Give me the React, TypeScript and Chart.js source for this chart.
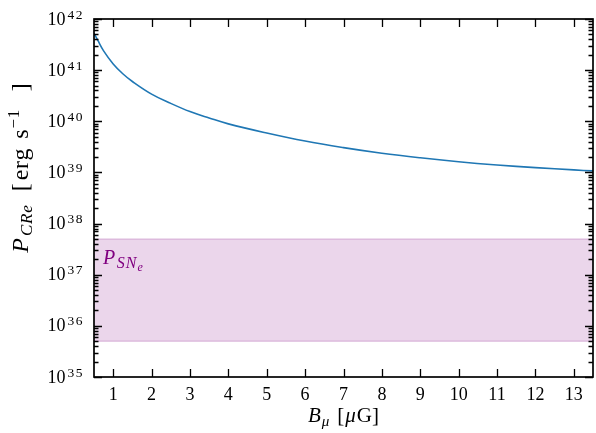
import React, { useEffect, useRef } from "react";
import { Chart, registerables } from "chart.js";

Chart.register(...registerables);

// ---- data ----
const bField = [0.5, 0.6, 0.75, 1, 1.25, 1.5, 2, 2.5, 3, 3.5, 4, 5, 6, 7, 8, 9, 10, 11, 12, 13, 13.5];
const powerCRe = [
  5.25e41, 3.8e41, 2.38e41, 1.32e41, 8.5e40, 6.0e40, 3.4e40, 2.24e40, 1.55e40, 1.16e40, 8.9e39,
  5.9e39, 4.1e39, 3.05e39, 2.37e39, 1.93e39, 1.62e39, 1.4e39, 1.24e39, 1.12e39, 1.07e39,
];
const bandX = [0.5, 13.5];
const bandLow = [5e35, 5e35];
const bandHigh = [5e37, 5e37];
const xTicks = [1, 2, 3, 4, 5, 6, 7, 8, 9, 10, 11, 12, 13];
const yTickExps = [35, 36, 37, 38, 39, 40, 41, 42];

const SERIF = '"Liberation Serif", "DejaVu Serif", serif';

type Piece = { t: string; size: number; italic?: boolean; dy?: number; gap?: number; ls?: number };

function setFont(ctx: any, p: Piece) {
  ctx.font = `${p.italic ? "italic " : ""}${p.size}px ${SERIF}`;
  if ("letterSpacing" in ctx) ctx.letterSpacing = `${p.ls || 0}px`;
}

function drawPieces(ctx: CanvasRenderingContext2D, pieces: Piece[], x: number, y: number, align: "left" | "center" | "right", color = "#000") {
  ctx.save();
  ctx.fillStyle = color;
  ctx.textBaseline = "alphabetic";
  ctx.textAlign = "left";
  const widths = pieces.map((p) => {
    setFont(ctx, p);
    return ctx.measureText(p.t).width + (p.gap || 0);
  });
  const total = widths.reduce((a, b) => a + b, 0);
  let cx = align === "left" ? x : align === "center" ? x - total / 2 : x - total;
  pieces.forEach((p, i) => {
    setFont(ctx, p);
    ctx.fillText(p.t, cx, y + (p.dy || 0));
    cx += widths[i];
  });
  setFont(ctx, { t: "", size: 10 });
  ctx.restore();
}

const axesPlugin = {
  id: "latexAxes",
  afterDraw(chart: any) {
    const ctx: CanvasRenderingContext2D = chart.ctx;
    const { left, right, top, bottom } = chart.chartArea;
    const xs = chart.scales.x;
    const ys = chart.scales.y;
    ctx.save();
    ctx.strokeStyle = "#000";
    ctx.lineWidth = 1.3;
    xTicks.forEach((v) => {
      const px = Math.round(xs.getPixelForValue(v)) + 0.5;
      ctx.beginPath();
      ctx.moveTo(px, bottom);
      ctx.lineTo(px, bottom - 8);
      ctx.moveTo(px, top);
      ctx.lineTo(px, top + 8);
      ctx.stroke();
    });
    yTickExps.forEach((e) => {
      for (let k = 1; k <= 9; k++) {
        const v = k * Math.pow(10, e);
        if (v > 1e42 * 1.0001) break;
        const py = Math.round(ys.getPixelForValue(v)) + 0.5;
        const len = k === 1 ? 8 : 4.5;
        ctx.beginPath();
        ctx.moveTo(left, py);
        ctx.lineTo(left + len, py);
        ctx.moveTo(right, py);
        ctx.lineTo(right - len, py);
        ctx.stroke();
      }
    });
    ctx.lineWidth = 1.7;
    ctx.strokeRect(left, top, right - left, bottom - top);
    ctx.restore();

    // x tick labels
    ctx.save();
    ctx.fillStyle = "#000";
    ctx.font = `18px ${SERIF}`;
    ctx.textAlign = "center";
    ctx.textBaseline = "alphabetic";
    xTicks.forEach((v) => {
      ctx.fillText(String(v), xs.getPixelForValue(v), bottom + 23);
    });
    ctx.restore();

    // y tick labels 10^n
    yTickExps.forEach((e) => {
      const py = ys.getPixelForValue(Math.pow(10, e));
      drawPieces(
        ctx,
        [
          { t: "10", size: 18, gap: 2 },
          { t: String(e), size: 13.5, dy: -6, ls: 1.5 },
        ],
        left - 10,
        py + 5.5,
        "right"
      );
    });

    // x axis label
    drawPieces(
      ctx,
      [
        { t: "B", size: 21, italic: true, gap: 1 },
        { t: "μ", size: 15, italic: true, dy: 4, gap: 8 },
        { t: "[", size: 21, gap: 1 },
        { t: "μ", size: 21, italic: true, gap: 1 },
        { t: "G]", size: 21 },
      ],
      (left + right) / 2,
      422,
      "center"
    );

    // y axis label (rotated)
    ctx.save();
    ctx.translate(28, 168);
    ctx.rotate(-Math.PI / 2);
    drawPieces(
      ctx,
      [
        { t: "P", size: 24, italic: true, gap: 2 },
        { t: "CRe", size: 17, italic: true, dy: 4, gap: 13, ls: 0.8 },
        { t: "[", size: 24, gap: 3 },
        { t: "erg", size: 24, gap: 9, ls: 0.8 },
        { t: "s", size: 24, gap: 1 },
        { t: "−1", size: 17, dy: -9, gap: 18, ls: 0.5 },
        { t: "]", size: 24 },
      ],
      0,
      0,
      "center"
    );
    ctx.restore();

    // band label
    drawPieces(
      ctx,
      [
        { t: "P", size: 20, italic: true, gap: 1.5 },
        { t: "SN", size: 16, italic: true, dy: 4, ls: 1 },
        { t: "e", size: 12, italic: true, dy: 7 },
      ],
      103,
      264,
      "left",
      "#800080"
    );
  },
};

export default function App() {
  const ref = useRef<HTMLCanvasElement | null>(null);
  useEffect(() => {
    document.body.style.margin = "0";
    const canvas = ref.current;
    if (!canvas) return;
    const chart = new Chart(canvas, {
      type: "line",
      data: {
        datasets: [
          {
            label: "low",
            data: bandX.map((x, i) => ({ x, y: bandLow[i] })),
            borderColor: "rgba(128,0,128,0.18)",
            borderWidth: 1.5,
            pointRadius: 0,
            fill: false,
          },
          {
            label: "high",
            data: bandX.map((x, i) => ({ x, y: bandHigh[i] })),
            borderColor: "rgba(128,0,128,0.18)",
            backgroundColor: "rgba(128,0,128,0.16)",
            borderWidth: 1.5,
            pointRadius: 0,
            fill: "-1",
          },
          {
            label: "PCRe",
            data: bField.map((x, i) => ({ x, y: powerCRe[i] })),
            borderColor: "#1f77b4",
            borderWidth: 1.6,
            pointRadius: 0,
            fill: false,
            tension: 0.4,
          },
        ],
      },
      options: {
        responsive: false,
        animation: false,
        devicePixelRatio: 1,
        layout: { padding: { left: 94, right: 3, top: 19, bottom: 56 } },
        plugins: { legend: { display: false }, tooltip: { enabled: false } },
        scales: {
          x: { type: "linear", min: 0.5, max: 13.5, display: false },
          y: { type: "logarithmic", min: 1e35, max: 1e42, display: false },
        },
      },
      plugins: [axesPlugin],
    } as any);
    return () => chart.destroy();
  }, []);
  return (
    <div style={{ width: 596, height: 433, background: "#fff" }}>
      <canvas ref={ref} width={596} height={433} style={{ display: "block" }} />
    </div>
  );
}
